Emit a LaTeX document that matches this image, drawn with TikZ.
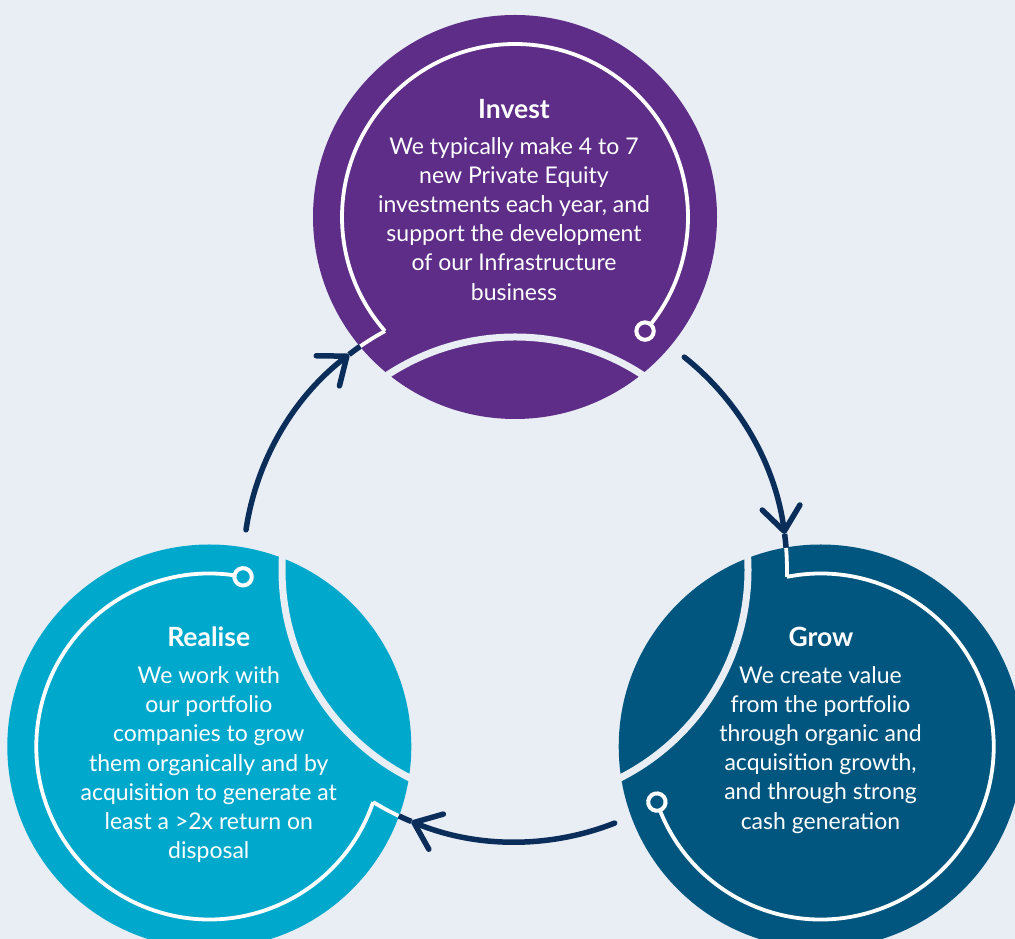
\documentclass[tikz,border=0pt]{standalone}
\usepackage{fontspec}
\setmainfont{Lato}
\usetikzlibrary{arrows.meta,calc}
\definecolor{bgc}{HTML}{E9EEF5}
\definecolor{investc}{HTML}{5E2D88}
\definecolor{growc}{HTML}{00567F}
\definecolor{realisec}{HTML}{00A8CC}
\definecolor{navy}{HTML}{0B2D5A}
\begin{document}
\begin{tikzpicture}[x=1pt,y=1pt,
  disc/.style={circle, inner sep=0pt, minimum size=404pt, draw=none},
  ringline/.style={draw=white, line width=3.8pt},
  dotring/.style={draw=white, line width=4pt},
  band/.style={draw=bgc, line width=7pt},
  flow/.style={draw=navy, line width=5.5pt, line cap=round, -{Straight Barb[length=24pt,width=38pt,round]}},
  flowend/.style={draw=navy, line width=5.5pt},
  title/.style={font=\bfseries\fontsize{26.5}{30}\selectfont, text=white, anchor=base, inner sep=0pt},
  body/.style={font=\fontsize{23}{29.2}\selectfont, text=white, align=center, anchor=north, inner sep=0pt},
]
\useasboundingbox (0,0) rectangle (1015,939);
\clip (0,0) rectangle (1015,939);
\fill[bgc] (0,0) rectangle (1015,939);
\coordinate (O) at (515,369);
\node[disc, fill=investc] (invest) at (515,722) {};
\node[disc, fill=growc] (grow) at (820.71,192.5) {};
\node[disc, fill=realisec] (realise) at (209.29,192.5) {};
\draw[band] (O) circle[radius=233];
\foreach \rot/\col/\nm in {0/investc/i, -120/growc/g, 120/realisec/r}{
  \begin{scope}[shift={(515,369)}, rotate=\rot]
    \coordinate (\nm-c) at (0,353);
    \coordinate (\nm-ringend) at ($(0,353)+(-41.26:173)$);
    \coordinate (\nm-edge) at (124.7:272);
    \coordinate (\nm-tip) at (127.6:272);
    \coordinate (\nm-from) at (171.5:272);
    % inner white ring
    \draw[ringline] (\nm-ringend) arc[start angle=-41.26, end angle=221.26, radius=173];
    % hook from the entry point to the ring
    \draw[ringline] (\nm-edge) arc[start angle=124.7, end angle=118.56, radius=272];
    % small open dot
    \draw[dotring, fill=\col] (\nm-ringend) circle[radius=8.7];
    % incoming arrow
    \draw[flow] (\nm-from) arc[start angle=171.5, end angle=127.6, radius=272];
    \draw[flowend] (\nm-tip) arc[start angle=127.6, end angle=124.7, radius=272];
  \end{scope}
}
% texts
\node[title] (t-invest) at (514,820.7) {Invest};
\node[body] (b-invest) at (514,805) {\rule{0pt}{20pt}We typically make 4 to 7\\new Private Equity\\investments each year, and\\support the development\\of our Infrastructure\\business};
\node[title] (t-grow) at (821,292.5) {Grow};
\node[body] (b-grow) at (820.5,276) {\rule{0pt}{20pt}We create value\\from the portfolio\\through organic and\\acquisition growth,\\and through strong\\cash generation};
\node[title] (t-realise) at (208.7,292.3) {Realise};
\node[body] (b-realise) at (208.8,275.7) {\rule{0pt}{20pt}We work with\\our portfolio\\companies to grow\\them organically and by\\acquisition to generate at\\least a >2x return on\\disposal};
\end{tikzpicture}
\end{document}
